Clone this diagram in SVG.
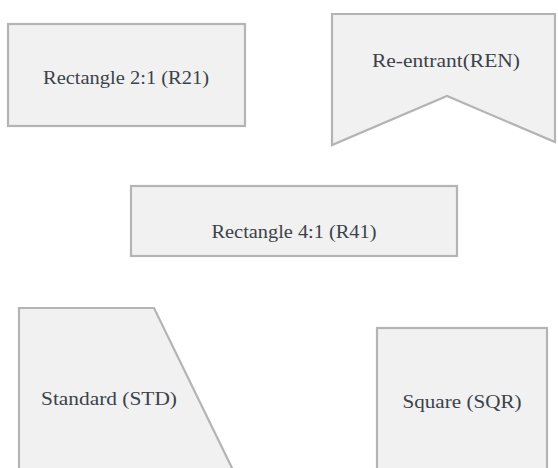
<svg xmlns="http://www.w3.org/2000/svg" width="558" height="468" viewBox="0 0 558 468">
<style>
.shape{fill:#f1f1f1;stroke:#b4b4b4;stroke-width:2.2}
.lbl{font-family:"Liberation Serif","DejaVu Serif",serif;font-size:18px;fill:#3c424a;text-anchor:middle}
</style>
<rect width="558" height="468" fill="#ffffff"/>
<g id="connectors"></g>
<g id="R21">
<rect class="shape" x="8" y="24" width="237" height="102"/>
<text class="lbl" x="126" y="84" textLength="166" lengthAdjust="spacingAndGlyphs">Rectangle 2:1 (R21)</text>
</g>
<g id="REN">
<polygon class="shape" points="332,14 555,14 555,142 447,96 332,145"/>
<text class="lbl" x="446" y="67" textLength="148" lengthAdjust="spacingAndGlyphs">Re-entrant(REN)</text>
</g>
<g id="R41">
<rect class="shape" x="131" y="186" width="326" height="70"/>
<text class="lbl" x="294" y="238" textLength="165" lengthAdjust="spacingAndGlyphs">Rectangle 4:1 (R41)</text>
</g>
<g id="STD">
<polygon class="shape" points="19,470 19,308 154,308 233,470"/>
<text class="lbl" x="109" y="405" textLength="136" lengthAdjust="spacingAndGlyphs">Standard (STD)</text>
</g>
<g id="SQR">
<rect class="shape" x="377" y="328" width="170" height="145"/>
<text class="lbl" x="462" y="408" textLength="119" lengthAdjust="spacingAndGlyphs">Square (SQR)</text>
</g>
</svg>
